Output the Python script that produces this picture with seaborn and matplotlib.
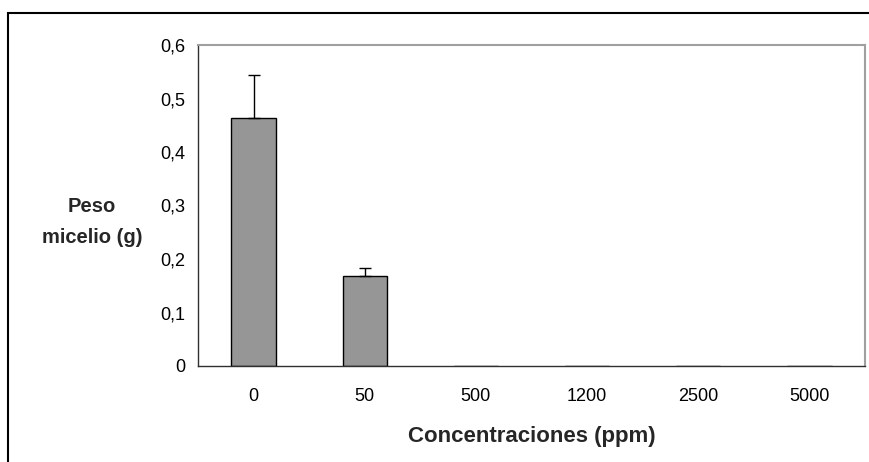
import matplotlib
matplotlib.use("Agg")
import matplotlib.pyplot as plt
import seaborn as sns
import pandas as pd
import numpy as np
from matplotlib.patches import Rectangle

categories = ["0", "50", "500", "1200", "2500", "5000"]
peso = [0.463, 0.169, 0.0, 0.0, 0.0, 0.0]
error_sup = [0.080, 0.015, 0.0, 0.0, 0.0, 0.0]
y_ticks = [0, 0.1, 0.2, 0.3, 0.4, 0.5, 0.6]
y_tick_labels = ["0", "0,1", "0,2", "0,3", "0,4", "0,5", "0,6"]

sns.set_style("white")
plt.rcParams['font.family'] = ['Liberation Sans', 'DejaVu Sans']

fig = plt.figure(figsize=(8.69, 4.62), dpi=100)
ax = fig.add_axes([198/869, 96/462, (865-198)/869, (366-45)/462])

df = pd.DataFrame({"conc": categories, "peso": peso})
sns.barplot(data=df, x="conc", y="peso", order=categories, color="#969696",
            edgecolor="black", linewidth=1, width=0.4, saturation=1, ax=ax, errorbar=None)

xs = np.arange(len(categories))
mask = np.array(error_sup) > 0
ax.errorbar(xs[mask], np.array(peso)[mask],
            yerr=[np.zeros(mask.sum()), np.array(error_sup)[mask]],
            fmt="none", ecolor="black", elinewidth=1, capsize=4, capthick=1)

ax.set_xlim(-0.5, len(categories) - 0.5)
ax.set_ylim(0, 0.6)
ax.set_yticks(y_ticks)
ax.set_yticklabels(y_tick_labels, fontsize=13)
ax.set_xticks(xs)
ax.set_xticklabels(categories, fontsize=13)
ax.set_xticks(np.arange(-0.5, len(categories), 1.0), minor=True)
ax.tick_params(axis="x", which="major", length=0, pad=16)
ax.tick_params(axis="x", which="minor", length=5, width=1, color="#303030", direction="out")
ax.tick_params(axis="y", which="major", length=5, width=1, color="#303030", direction="out", pad=4)
ax.tick_params(axis="both", labelcolor="black")
ax.set_xlabel("Concentraciones (ppm)", fontsize=16, fontweight="bold", labelpad=15)
ax.set_ylabel("")

for s in ["left", "bottom"]:
    ax.spines[s].set_color("#303030")
    ax.spines[s].set_linewidth(1)
for s in ["top", "right"]:
    ax.spines[s].set_color("#a0a0a0")
    ax.spines[s].set_linewidth(1.5)

fig.text(92/869, 1 - 222/462, "Peso\nmicelio (g)", fontsize=14.5, fontweight="bold",
         ha="center", va="center", multialignment="center", linespacing=1.75)

frame = Rectangle((8/869, -0.05), 1.2, 1 - 13/462 + 0.05, transform=fig.transFigure,
                  fill=False, edgecolor="black", linewidth=1.5)
fig.add_artist(frame)

fig.savefig("out.png", dpi=100)
